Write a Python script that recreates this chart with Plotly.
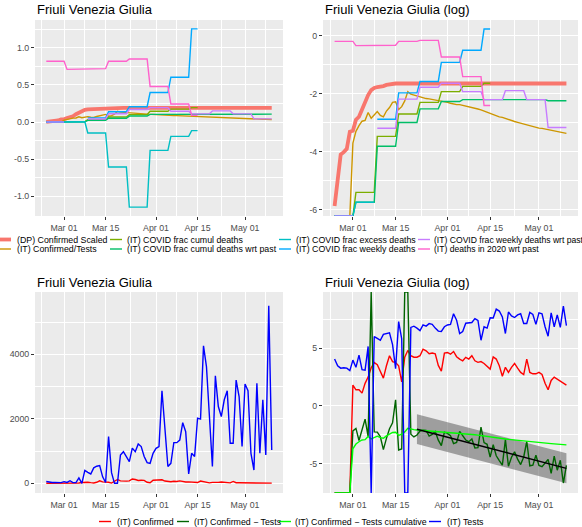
import numpy as np
import pandas as pd
import plotly.graph_objects as go

W, H = 582, 527
FONT = "Liberation Sans, Arial, Helvetica, sans-serif"

# ---------------- data ----------------
dates = pd.date_range("2020-02-24", "2020-05-10", freq="D")
week_starts = pd.date_range("2020-02-24", "2020-05-04", freq="7D")

dp_confirmed_scaled = [
    0.0028, 0.0067, 0.0166, 0.0180, 0.0202, 0.0365, 0.0376,
    0.055, 0.061, 0.078, 0.105, 0.129, 0.153, 0.165,
    0.170, 0.172, 0.176, 0.183, 0.188, 0.190, 0.192,
    0.192, 0.192, 0.192, 0.192, 0.192, 0.192, 0.192,
    0.192, 0.192, 0.192, 0.192, 0.192, 0.192, 0.192,
    0.192, 0.192, 0.192, 0.192, 0.192, 0.192, 0.192,
    0.192, 0.192, 0.192, 0.192, 0.192, 0.192, 0.192,
    0.192, 0.192, 0.192, 0.192, 0.192, 0.192, 0.192,
    0.192, 0.192, 0.192, 0.192, 0.192, 0.192, 0.192,
    0.192, 0.192, 0.192, 0.192, 0.192, 0.192, 0.192,
    0.192, 0.192, 0.192, 0.192, 0.192, 0.192, 0.192,
]
# cumulative confirmed / cumulative tests
confirmed_tests = [
    0, 0, 0, 0, 0, 0, 0.0245,
    0.0369, 0.0450, 0.0523, 0.0539, 0.0707, 0.0578, 0.0639,
    0.0728, 0.0639, 0.0608, 0.0743, 0.0837, 0.1003, 0.1023,
    0.0781, 0.0863, 0.1054, 0.1451, 0.1327, 0.1287, 0.1249,
    0.1225, 0.1165, 0.1142, 0.1130, 0.1108, 0.1097, 0.1065,
    0.1054, 0.1044, 0.1003, 0.0973, 0.0944, 0.0926, 0.0926,
    0.0907, 0.0880, 0.0854, 0.0837, 0.0821, 0.0797, 0.0773,
    0.0743, 0.0721, 0.0693, 0.0659, 0.0627, 0.0608, 0.0596,
    0.0573, 0.0550, 0.0534, 0.0518, 0.0503, 0.0488, 0.0474,
    0.0455, 0.0442, 0.0429, 0.0420, 0.0412, 0.0408, 0.0400,
    0.0392, 0.0384, 0.0376, 0.0369, 0.0365, 0.0354, 0.0344,
]
# weekly values (weeks starting on Monday)
covid_frac_cumul_deaths = [0, 0.0045, 0.031, 0.067, 0.100, 0.145, 0.174, 0.194]
covid_frac_cumul_deaths_wrt_past = [0, 0.0032, 0.022, 0.050, 0.080, 0.103, 0.110, 0.110, 0.110, 0.110, 0.106]
covid_frac_excess_deaths = [0, 0.0032, -0.149, -0.608, -1.149, -0.383, -0.194, -0.117]
covid_frac_weekly_deaths = [0, None, 0.056, 0.139, 0.206, 0.398, 0.605, 1.257]
covid_frac_weekly_deaths_wrt_past = [0, None, 0.041, 0.112, 0.169, 0.194, 0.145, 0.110, 0.150, 0.110, 0.042]
deaths_2020_wrt_past = [0.82, 0.71, 0.72, 0.82, 0.85, 0.48, 0.243, 0.090]
istat_last_day = "2020-04-15"
wrt_past_last_day = "2020-05-10"

# daily new confirmed and new tests
confirmed = [
    0, 0, 0, 0, 0, 0,
    6, 4, 4, 3, 7, 12, 27,
    42, 35, 20, 11, 32, 76, 46,
    42, 32, 8, 67, 120, 76, 67,
    67, 76, 134, 117, 90, 96, 90,
    33, 20, 96, 101, 87, 110, 70,
    57, 49, 66, 57, 76, 49, 43,
    46, 39, 30, 24, 69, 57, 32,
    13, 28, 18, 28, 39, 26, 18,
    15, 57, 18, 16, 16, 18, 15,
    7, 4, 9, 12, 10, 8, 7,
    6,
]
tests = [
    57, 32, 26, 27, 26, 21,
    52, 28, 80, 23, 22, 170, 0,
    400, 340, 290, 480, 530, 550, 200,
    25, 1450, 330, 0, 0, 880, 980,
    830, 670, 1090, 980, 1220, 1140, 830,
    640, 620, 930, 1085, 1140, 2870, 1650,
    520, 620, 1260, 1260, 1340, 1880, 1600,
    290, 930, 830, 2020, 1990, 4260, 3620,
    2170, 520, 3330, 2380, 2070, 2590, 2870,
    1240, 1240, 3200, 2690, 1140, 3080, 2870,
    930, 410, 3100, 930, 2590, 880, 5500,
    1030,
]
# linear trend of log(Confirmed/Tests) with its band
fit_dates = ["2020-03-22", "2020-05-10"]
fit_mid = [-2.02, -5.40]
fit_lo = [-3.30, -6.68]
fit_hi = [-0.72, -4.10]

x_ticks = ["2020-03-01", "2020-03-15", "2020-04-01", "2020-04-15", "2020-05-01"]
x_ticktext = ["Mar 01", "Mar 15", "Apr 01", "Apr 15", "May 01"]
x_minor = ["2020-02-22 12:00", "2020-03-08", "2020-03-23 12:00", "2020-04-08", "2020-04-23", "2020-05-08"]

# ---------------- helpers ----------------
def expand_weekly(vals, last):
    idx = dates[dates <= pd.Timestamp(last)]
    k = (idx - dates[0]).days // 7
    y = np.array([np.nan if vals[i] is None else vals[i] for i in k], float)
    return idx, y

def safe_log(a):
    with np.errstate(divide="ignore", invalid="ignore"):
        return np.log(np.asarray(a, float))

def edge(a, lo, hi):
    # infinite values are drawn on the panel border (ggplot convention)
    a = np.asarray(a, float).copy()
    a[np.isneginf(a)] = lo
    a[np.isposinf(a)] = hi
    return a

def px_x(p):
    return p / W

def px_y(p):
    return 1 - p / H

d0, d1 = dates[0], dates[-1]
span = d1 - d0
x_range = [d0 - 0.05 * span, d1 + 0.05 * span]

TL = (35, 283, 20, 216)
TR = (323, 578, 20, 216)
BL = (35, 283, 292, 493)
BR = (323, 578, 292, 493)

TL_R = [-1.269, 1.377]
TR_R = [-6.22, 0.54]
BL_R = [-300, 5930]
BR_R = [-7.53, 9.84]

fig = go.Figure()

top_series = [
    ("(DP) Confirmed Scaled", dates, np.array(dp_confirmed_scaled, float), "#F8766D", 3.8),
    ("(IT) Confirmed/Tests", dates, np.array(confirmed_tests, float), "#CD9600", 1.4),
    ("(IT) COVID frac cumul deaths", *expand_weekly(covid_frac_cumul_deaths, istat_last_day), "#7CAE00", 1.4),
    ("(IT) COVID frac cumul deaths wrt past", *expand_weekly(covid_frac_cumul_deaths_wrt_past, wrt_past_last_day), "#00BE67", 1.4),
    ("(IT) COVID frac excess deaths", *expand_weekly(covid_frac_excess_deaths, istat_last_day), "#00BFC4", 1.4),
    ("(IT) COVID frac weekly deaths", *expand_weekly(covid_frac_weekly_deaths, istat_last_day), "#00A9FF", 1.4),
    ("(IT) COVID frac weekly deaths wrt past", *expand_weekly(covid_frac_weekly_deaths_wrt_past, wrt_past_last_day), "#C77CFF", 1.4),
    ("(IT) deaths in 2020 wrt past", *expand_weekly(deaths_2020_wrt_past, istat_last_day), "#FF61CC", 1.4),
]

for name, x, y, col, w in top_series:
    fig.add_trace(go.Scatter(x=x, y=y, mode="lines", name=name, showlegend=False,
                             line=dict(color=col, width=w), xaxis="x", yaxis="y"))
for name, x, y, col, w in top_series:
    fig.add_trace(go.Scatter(x=x, y=edge(safe_log(y), TR_R[0], TR_R[1]), mode="lines", name=name,
                             showlegend=False, line=dict(color=col, width=w), xaxis="x2", yaxis="y2"))

conf = np.array(confirmed, float)
tst = np.array(tests, float)
with np.errstate(divide="ignore", invalid="ignore"):
    ratio = conf / tst

bottom_series = [
    ("(IT) Confirmed", conf, safe_log(conf), "#FF0000"),
    ("(IT) Confirmed \u2212 Tests", None, safe_log(ratio), "#006400"),
    ("(IT) Confirmed \u2212 Tests cumulative", None, safe_log(confirmed_tests), "#00FF00"),
    ("(IT) Tests", tst, safe_log(tst), "#0000FF"),
]
for name, lin, lg, col in bottom_series:
    if lin is not None:
        fig.add_trace(go.Scatter(x=dates, y=lin, mode="lines", name=name, showlegend=False,
                                 line=dict(color=col, width=1.4), xaxis="x3", yaxis="y3"))

fig.add_trace(go.Scatter(x=fit_dates + fit_dates[::-1], y=fit_hi + fit_lo[::-1], fill="toself",
                         fillcolor="rgba(95,95,95,0.55)", line=dict(width=0), mode="lines",
                         showlegend=False, hoverinfo="skip", xaxis="x4", yaxis="y4"))
for name, lin, lg, col in bottom_series:
    fig.add_trace(go.Scatter(x=dates, y=edge(lg, BR_R[0], BR_R[1]), mode="lines", name=name,
                             showlegend=False, line=dict(color=col, width=1.4), xaxis="x4", yaxis="y4"))
fig.add_trace(go.Scatter(x=fit_dates, y=fit_mid, mode="lines", showlegend=False,
                         line=dict(color="black", width=1.4), xaxis="x4", yaxis="y4"))

# ---------------- axes ----------------
def xaxis(box, anchor):
    return dict(domain=[px_x(box[0]), px_x(box[1])], anchor=anchor, type="date", range=x_range,
                tickmode="array", tickvals=x_ticks, ticktext=x_ticktext,
                showgrid=True, gridcolor="white", gridwidth=1.1, zeroline=False, showline=False,
                ticks="outside", ticklen=3, tickwidth=1, tickcolor="#333333",
                tickfont=dict(size=8.8, color="#4D4D4D", family=FONT),
                minor=dict(tickmode="array", tickvals=x_minor, showgrid=True, gridcolor="white",
                           gridwidth=0.55, ticks=""),
                fixedrange=True)

def yaxis(box, anchor, rng, vals, text, minor):
    return dict(domain=[px_y(box[3]), px_y(box[2])], anchor=anchor, range=rng,
                tickmode="array", tickvals=vals, ticktext=text,
                showgrid=True, gridcolor="white", gridwidth=1.1, zeroline=False, showline=False,
                ticks="outside", ticklen=3, tickwidth=1, tickcolor="#333333",
                tickfont=dict(size=8.8, color="#4D4D4D", family=FONT),
                minor=dict(tickmode="array", tickvals=minor, showgrid=True, gridcolor="white",
                           gridwidth=0.55, ticks=""),
                fixedrange=True)

fig.update_layout(
    width=W, height=H, margin=dict(l=0, r=0, t=0, b=0),
    paper_bgcolor="white", plot_bgcolor="#EBEBEB",
    font=dict(family=FONT, color="black"),
    showlegend=False,
    xaxis=xaxis(TL, "y"),
    yaxis=yaxis(TL, "x", TL_R, [-1, -0.5, 0, 0.5, 1], ["-1.0", "-0.5", "0.0", "0.5", "1.0"],
                [-0.75, -0.25, 0.25, 0.75, 1.25]),
    xaxis2=xaxis(TR, "y2"),
    yaxis2=yaxis(TR, "x2", TR_R, [-6, -4, -2, 0], ["-6", "-4", "-2", "0"], [-5, -3, -1]),
    xaxis3=xaxis(BL, "y3"),
    yaxis3=yaxis(BL, "x3", BL_R, [0, 2000, 4000], ["0", "2000", "4000"], [1000, 3000, 5000]),
    xaxis4=xaxis(BR, "y4"),
    yaxis4=yaxis(BR, "x4", BR_R, [-5, 0, 5], ["-5", "0", "5"], [-7.5, -2.5, 2.5, 7.5]),
)

# ---------------- titles ----------------
titles = [("Friuli Venezia Giulia", TL[0], 9), ("Friuli Venezia Giulia (log)", TR[0], 9),
          ("Friuli Venezia Giulia", BL[0], 282), ("Friuli Venezia Giulia (log)", BR[0], 282)]
for txt, xp, yp in titles:
    fig.add_annotation(text=txt, x=px_x(xp), y=px_y(yp), xref="paper", yref="paper",
                       xanchor="left", yanchor="middle", showarrow=False,
                       font=dict(size=13, color="black", family=FONT))

# ---------------- legends ----------------
def legend_item(label, color, width, key_x0, text_x, y, size=8.8):
    fig.add_shape(type="line", xref="paper", yref="paper",
                  x0=px_x(key_x0), x1=px_x(key_x0 + 12), y0=px_y(y), y1=px_y(y),
                  line=dict(color=color, width=width))
    fig.add_annotation(text=label, x=px_x(text_x), y=px_y(y), xref="paper", yref="paper",
                       xanchor="left", yanchor="middle", showarrow=False,
                       font=dict(size=size, color="black", family=FONT))

top_cols = [(-1, 15), (110, 125), (279, 294), (418, 432)]
top_rows = [239.5, 249]
for i, (name, x, y, col, w) in enumerate(top_series):
    c, r = divmod(i, 2)
    legend_item(name, col, w, top_cols[c][0], top_cols[c][1], top_rows[r], 8.6 if c == 3 else 8.8)

bot_pos = [(99, 115), (177, 192), (279, 293), (429, 445)]
for (name, lin, lg, col), (kx, tx) in zip(bottom_series, bot_pos):
    legend_item(name, col, 1.4, kx, tx, 521.5)

fig.write_html("out.html", include_plotlyjs=True, config={"displayModeBar": False},
               post_script="document.body.style.margin='0';document.body.style.padding='0';"
                           "document.body.style.overflow='hidden';")
